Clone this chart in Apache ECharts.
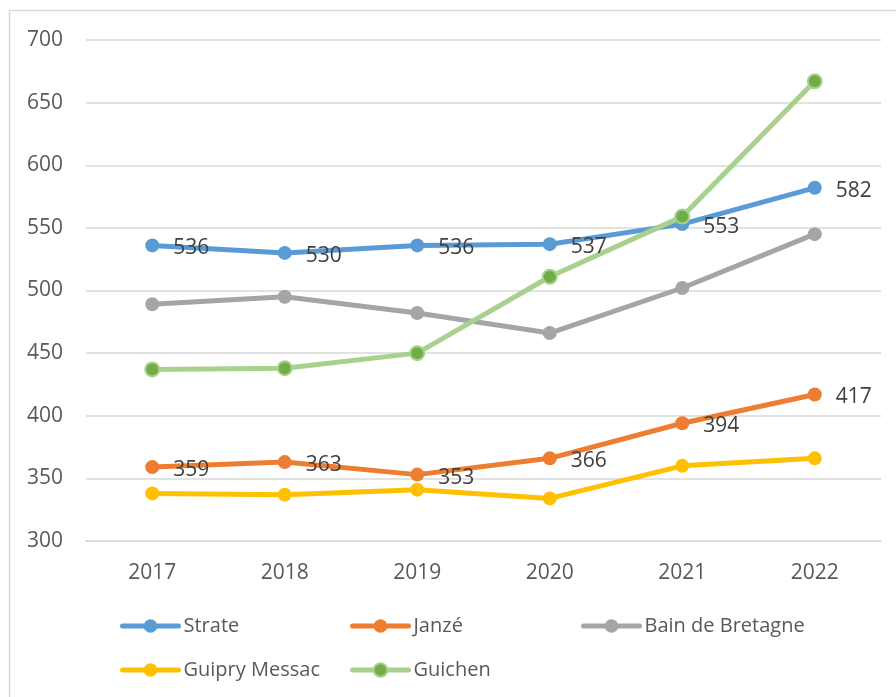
<!DOCTYPE html>
<html>
<head>
<meta charset="utf-8">
<script src="https://cdn.jsdelivr.net/npm/echarts@6/dist/echarts.min.js"></script>
<style>
  html, body { margin: 0; padding: 0; background: #fff; }
  #main { width: 896px; height: 697px; }
</style>
</head>
<body>
<div id="main"></div>
<script>
// années
var years = ['2017', '2018', '2019', '2020', '2021', '2022'];

// valeurs par commune
var strate = [536, 530, 536, 537, 553, 582];
var janze = [359, 363, 353, 366, 394, 417];
var bain = [489, 495, 482, 466, 502, 545];
var guipry = [338, 337, 341, 334, 360, 366];
var guichen = [437, 438, 450, 511, 559, 667];

var yTicks = [300, 350, 400, 450, 500, 550, 600, 650, 700];

var FONT = '"Open Sans", "Liberation Sans", sans-serif';

var chart = echarts.init(document.getElementById('main'));

function serie(name, data, lineColor, markColor, showLabel) {
	var s = {
		name: name,
		type: 'line',
		data: data,
		symbol: 'circle',
		symbolSize: 14,
		showAllSymbol: true,
		lineStyle: { color: lineColor, width: 5 },
		itemStyle: { color: markColor },
		emphasis: { disabled: true },
		label: {
			show: showLabel,
			position: 'right',
			distance: 14,
			offset: [0, 3],
			color: '#404040',
			fontSize: 21,
			fontFamily: FONT
		}
	};
	return s;
}

var guichenSerie = serie('Guichen', guichen, '#a9d18e', '#70ad47', false);
guichenSerie.itemStyle = { color: '#70ad47', borderColor: '#a9d18e', borderWidth: 2 };

// une légende par entrée pour garder les colonnes alignées
function leg(name, left, top) {
	return {
		data: [name],
		left: left,
		top: top,
		padding: 0,
		itemWidth: 56,
		itemHeight: 17,
		itemGap: 0,
		selectedMode: false,
		lineStyle: { width: 5, cap: 'round' },
		textStyle: { color: '#595959', fontSize: 20, fontFamily: FONT }
	};
}

var option = {
	animation: false,
	graphic: [{
		type: 'rect',
		shape: { x: 9.5, y: 10.5, width: 900, height: 700 },
		style: { fill: 'none', stroke: '#d9d9d9', lineWidth: 1.5 },
		silent: true
	}],
	grid: { left: 86, right: 15, top: 40, bottom: 156, containLabel: false },
	legend: [
		leg('Strate', 120, 616),
		leg('Janzé', 350, 616),
		leg('Bain de Bretagne', 581, 616),
		leg('Guipry Messac', 120, 660),
		leg('Guichen', 350, 660)
	],
	xAxis: {
		type: 'category',
		data: years,
		boundaryGap: true,
		axisLine: { show: true, lineStyle: { color: '#d9d9d9', width: 1.5 } },
		axisTick: { show: false },
		axisLabel: { color: '#595959', fontSize: 21, fontFamily: FONT, margin: 22 }
	},
	yAxis: {
		type: 'value',
		min: yTicks[0],
		max: yTicks[yTicks.length - 1],
		interval: 50,
		axisLine: { show: false },
		axisTick: { show: false },
		splitLine: { lineStyle: { color: '#d9d9d9', width: 1.5 } },
		axisLabel: { color: '#595959', fontSize: 21, fontFamily: FONT, margin: 23 }
	},
	series: [
		serie('Strate', strate, '#5b9bd5', '#5b9bd5', true),
		serie('Janzé', janze, '#ed7d31', '#ed7d31', true),
		serie('Bain de Bretagne', bain, '#a5a5a5', '#a5a5a5', false),
		serie('Guipry Messac', guipry, '#ffc000', '#ffc000', false),
		guichenSerie
	]
};

chart.setOption(option);
</script>
</body>
</html>
